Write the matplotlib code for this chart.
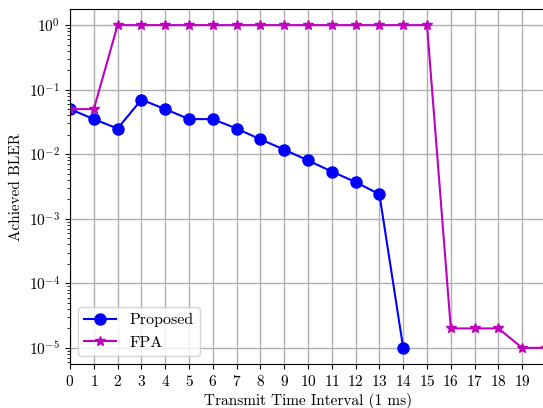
import numpy as np
import matplotlib
matplotlib.use("Agg")
import matplotlib.pyplot as plt

plt.rcParams["font.family"] = "serif"
plt.rcParams["font.serif"] = ["cmr10"]
plt.rcParams["mathtext.fontset"] = "cm"
plt.rcParams["axes.formatter.use_mathtext"] = True
plt.rcParams["font.size"] = 11

# Achieved BLER per transmit time interval
tti_proposed = list(range(15))
bler_proposed = [0.05, 0.035, 0.025, 0.07, 0.05, 0.035, 0.035, 0.025, 0.017,
                 0.0118, 0.008, 0.0054, 0.0037, 0.0024, 1e-5]

tti_fpa = list(range(21))
bler_fpa = [0.05, 0.05, 1, 1, 1, 1, 1, 1, 1, 1, 1, 1, 1, 1, 1, 1,
            2e-5, 2e-5, 2e-5, 1e-5, 1e-5]

fig = plt.figure(figsize=(5.43, 4.08), dpi=100)
ax = fig.add_axes([70 / 543, 1 - 364 / 408, 476 / 543, 355 / 408])

ax.plot(tti_proposed, bler_proposed, color="blue", marker="o", markersize=8,
        linewidth=1.5, label="Proposed")
ax.plot(tti_fpa, bler_fpa, color="m", marker="*", markersize=7.5,
        linewidth=1.5, label="FPA")

ax.set_yscale("log")
ax.set_xlim(0, 20)
ax.set_xticks(range(20))
ax.set_xlabel("Transmit Time Interval (1 ms)", labelpad=3)
ax.set_ylabel("Achieved BLER")
ax.grid(True, color="#b0b0b0", linewidth=1)
ax.set_axisbelow(True)
ax.legend(loc="lower left", fontsize=11.5)

fig.savefig("out.png", dpi=100)
